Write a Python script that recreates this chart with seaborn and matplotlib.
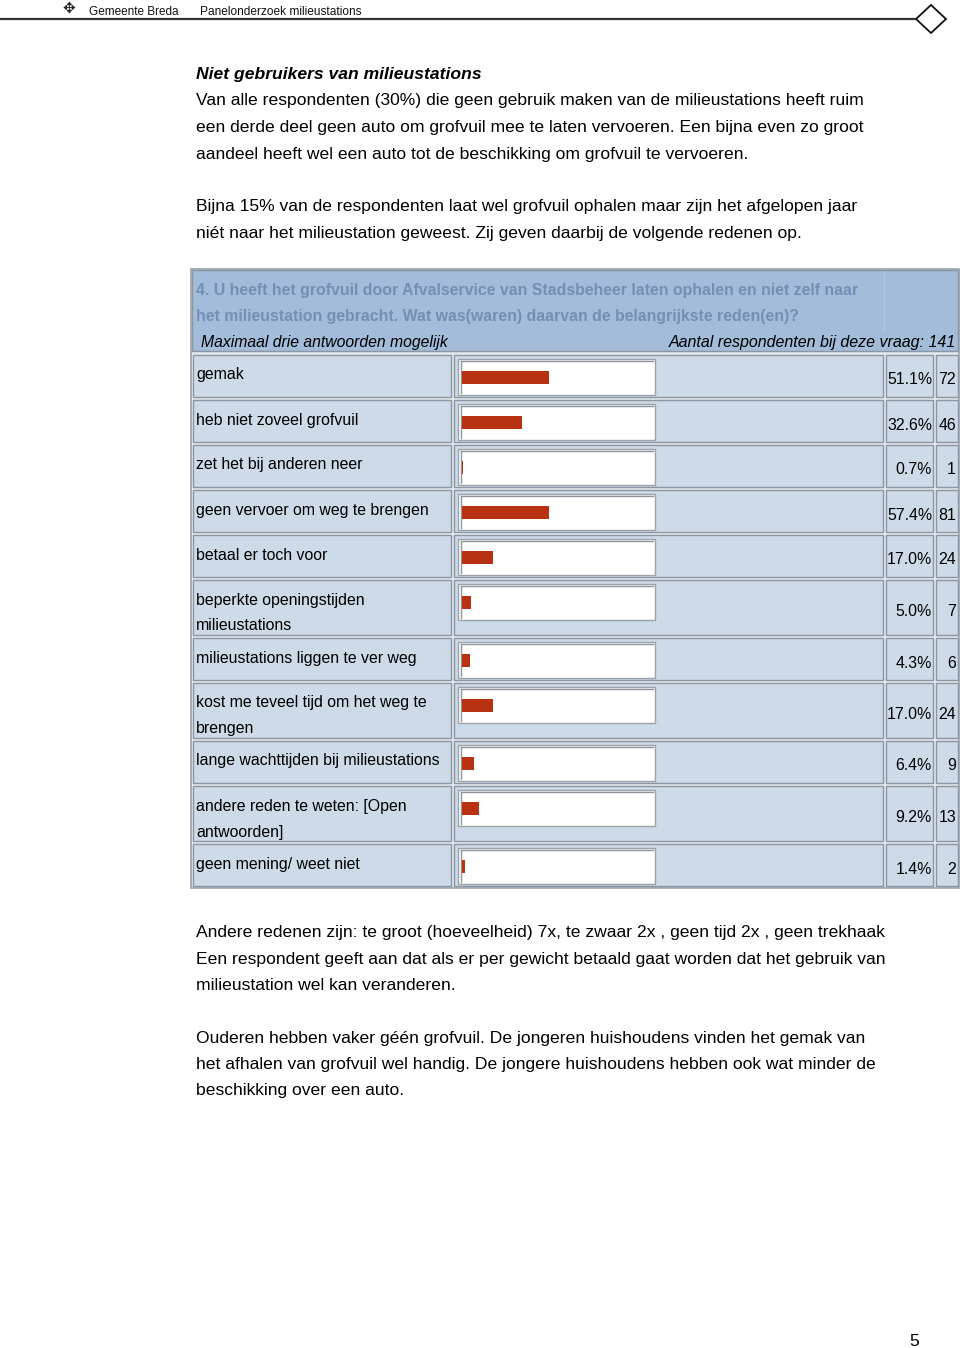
import numpy as np
import pandas as pd
import matplotlib
matplotlib.use("Agg")
import matplotlib.pyplot as plt
from matplotlib.patches import Rectangle, Polygon
import seaborn as sns

# ---------------- data ----------------
labels = [
    "gemak",
    "heb niet zoveel grofvuil",
    "zet het bij anderen neer",
    "geen vervoer om weg te brengen",
    "betaal er toch voor",
    "beperkte openingstijden\nmilieustations",
    "milieustations liggen te ver weg",
    "kost me teveel tijd om het weg te\nbrengen",
    "lange wachttijden bij milieustations",
    "andere reden te weten: [Open\nantwoorden]",
    "geen mening/ weet niet",
]
percentages = [51.1, 32.6, 0.7, 57.4, 17.0, 5.0, 4.3, 17.0, 6.4, 9.2, 1.4]
counts = [72, 46, 1, 81, 24, 7, 6, 24, 9, 13, 2]
n_respondents = 141

header_left = "Gemeente Breda"
header_right = "Panelonderzoek milieustations"
section_title = "Niet gebruikers van milieustations"
intro_lines = [
    "Van alle respondenten (30%) die geen gebruik maken van de milieustations heeft ruim",
    "een derde deel geen auto om grofvuil mee te laten vervoeren. Een bijna even zo groot",
    "aandeel heeft wel een auto tot de beschikking om grofvuil te vervoeren.",
]
intro2_lines = [
    "Bijna 15% van de respondenten laat wel grofvuil ophalen maar zijn het afgelopen jaar",
    "niét naar het milieustation geweest. Zij geven daarbij de volgende redenen op.",
]
question_lines = [
    "4. U heeft het grofvuil door Afvalservice van Stadsbeheer laten ophalen en niet zelf naar",
    "het milieustation gebracht. Wat was(waren) daarvan de belangrijkste reden(en)?",
]
note_left = "Maximaal drie antwoorden mogelijk"
note_right = "Aantal respondenten bij deze vraag: {}".format(n_respondents)
after1_lines = [
    "Andere redenen zijn: te groot (hoeveelheid) 7x, te zwaar 2x , geen tijd 2x , geen trekhaak",
    "Een respondent geeft aan dat als er per gewicht betaald gaat worden dat het gebruik van",
    "milieustation wel kan veranderen.",
]
after2_lines = [
    "Ouderen hebben vaker géén grofvuil. De jongeren huishoudens vinden het gemak van",
    "het afhalen van grofvuil wel handig. De jongere huishoudens hebben ook wat minder de",
    "beschikking over een auto.",
]
page_number = "5"

# ---------------- style ----------------
plt.rcParams['font.family'] = ['Liberation Sans', 'DejaVu Sans']
W, H = 960, 1348
BODY = 12.6
TABLE = 11.4
DY = 2
BAR_COLOR = "#b83212"
CELL = "#cddbe8"
HEAD = "#a3bcd9"
EDGE = "#8c96a2"
GAP = "#e2e8ee"
QCOLOR = "#7090b4"

fig = plt.figure(figsize=(W / 100, H / 100), dpi=100)
ax = fig.add_axes([0, 0, 1, 1])
ax.set_xlim(0, W)
ax.set_ylim(H, 0)
ax.axis("off")

# ---------------- page header ----------------
ax.text(69, 8, "✥", fontsize=11, ha="center", va="center", color="#222222",
        family=["DejaVu Sans"])
ax.text(89, 12, header_left, fontsize=8.5, ha="left", va="center", color="#111111")
ax.text(200, 12, header_right, fontsize=8.6, ha="left", va="center", color="#111111")
ax.plot([0, 916], [19, 19], color="#333333", lw=1.6, solid_capstyle="butt")
ax.add_patch(Polygon([(916, 19), (931, 5), (946, 19), (931, 33)], closed=True,
                     facecolor="white", edgecolor="#111111", lw=1.3))

# ---------------- intro text ----------------
X0 = 196
ax.text(X0, 73 + DY, section_title, fontsize=BODY, fontweight="bold", fontstyle="italic",
        ha="left", va="center", color="black")
for i, line in enumerate(intro_lines):
    ax.text(X0, 99 + DY + i * 26.5, line, fontsize=BODY, ha="left", va="center", color="black")
for i, line in enumerate(intro2_lines):
    ax.text(X0, 205 + DY + i * 26.5, line, fontsize=BODY, ha="left", va="center", color="black")

# ---------------- table frame ----------------
TX0, TX1 = 191, 959
ax.add_patch(Rectangle((TX0, 269), TX1 - TX0, 888 - 269, facecolor=GAP,
                       edgecolor="#9aa3ad", lw=1.2, zorder=1))
ax.add_patch(Rectangle((192, 270), 766, 81, facecolor=HEAD, edgecolor=EDGE, lw=1.0, zorder=2))
ax.plot([884, 884], [272, 330], color="#b4c8de", lw=0.8, zorder=3)
for i, line in enumerate(question_lines):
    ax.text(196, 288 + DY + i * 26, line, fontsize=11.45, fontweight="bold", ha="left",
            va="center", color=QCOLOR, zorder=4)
ax.text(201, 341 + DY, note_left, fontsize=11.3, fontstyle="italic", ha="left", va="center",
        color="black", zorder=4)
ax.text(956, 341 + DY, note_right, fontsize=11.5, fontstyle="italic", ha="right", va="center",
        color="black", zorder=4)

# rows
cols = [(193, 451), (454, 883), (886, 933), (936, 958)]
row_tops, row_hs = [], []
y = 355
for lab in labels:
    nl = lab.count("\n") + 1
    pitch = 45 if nl == 1 else 58
    row_tops.append(y)
    row_hs.append(pitch - 3)
    y += pitch
table_bottom = row_tops[-1] + row_hs[-1]

for lab, pct, cnt, top, h in zip(labels, percentages, counts, row_tops, row_hs):
    for (cx0, cx1) in cols:
        ax.add_patch(Rectangle((cx0, top), cx1 - cx0, h, facecolor=CELL,
                               edgecolor=EDGE, lw=1.0, zorder=2))
    # white bar box
    ax.add_patch(Rectangle((458, top + 4), 197, 36, facecolor="white",
                           edgecolor="#9ba2aa", lw=1.0, zorder=3))
    ax.plot([460.5, 460.5], [top + 6, top + 38], color="#8f959c", lw=1.0, zorder=3)
    ax.plot([460.5, 653], [top + 6, top + 6], color="#8f959c", lw=1.0, zorder=3)
    for j, part in enumerate(lab.split("\n")):
        ax.text(196, top + 18 + DY + j * 26, part, fontsize=TABLE, ha="left", va="center",
                color="black", zorder=4)
    yc = top + h / 2 + 2 + DY
    ax.text(932, yc, "{:.1f}%".format(pct), fontsize=TABLE, ha="right", va="center",
            color="black", zorder=4)
    ax.text(956, yc, "{}".format(cnt), fontsize=TABLE, ha="right", va="center",
            color="black", zorder=4)

# ---------------- bars (seaborn) ----------------
PX_PER_PCT = 1.85
BAR_X0, BAR_CLIP = 462, 87
bar_centers = [t + 22 for t in row_tops]
df = pd.DataFrame({"pct": percentages, "pos": bar_centers})
axb = fig.add_axes([BAR_X0 / W, 1 - table_bottom / H, BAR_CLIP / W, (table_bottom - 355) / H])
axb.set_facecolor("none")
sns.barplot(data=df, x="pct", y="pos", orient="y", native_scale=True,
            width=13 / 45, color=BAR_COLOR, saturation=1, errorbar=None,
            linewidth=0, ax=axb)
axb.set_xlim(0, BAR_CLIP / PX_PER_PCT)
axb.set_ylim(table_bottom, 355)
axb.axis("off")

# ---------------- text after table ----------------
for i, line in enumerate(after1_lines):
    ax.text(X0, 931 + DY + i * 26.3, line, fontsize=BODY, ha="left", va="center", color="black")
for i, line in enumerate(after2_lines):
    ax.text(X0, 1036 + DY + i * 26.3, line, fontsize=BODY, ha="left", va="center", color="black")

ax.text(914, 1339 + DY, page_number, fontsize=BODY, ha="center", va="center", color="black")

fig.savefig("out.png", dpi=100, facecolor="white")
